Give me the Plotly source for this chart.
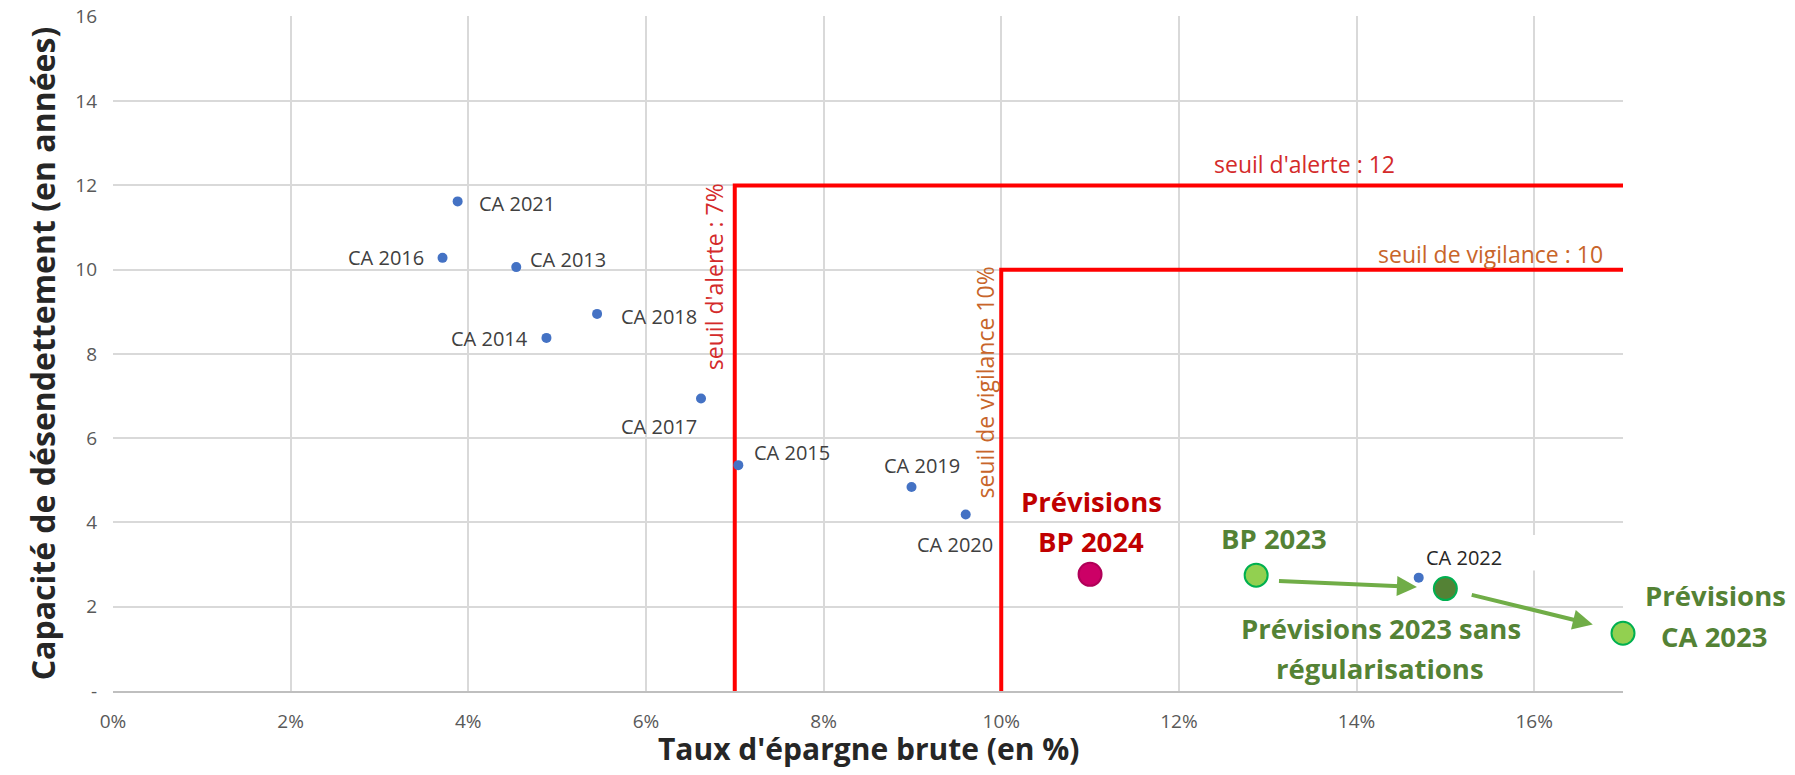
import plotly.graph_objects as go

# Historical points (comptes administratifs)
ca_labels = ["CA 2013", "CA 2014", "CA 2015", "CA 2016", "CA 2017",
             "CA 2018", "CA 2019", "CA 2020", "CA 2021", "CA 2022"]
ca_taux = [4.54, 4.88, 7.04, 3.71, 6.62, 5.45, 8.99, 9.60, 3.88, 14.70]
ca_capacite = [10.06, 8.38, 5.36, 10.28, 6.94, 8.95, 4.84, 4.19, 11.62, 2.69]

# Forecast points
prev_names = ["BP 2024", "BP 2023", "Prévisions 2023 sans régularisations", "Prévisions CA 2023"]
prev_taux = [11.0, 12.87, 15.0, 17.0]
prev_capacite = [2.77, 2.75, 2.43, 1.37]

# Thresholds
seuil_alerte_taux = 7
seuil_alerte_capacite = 12
seuil_vigilance_taux = 10
seuil_vigilance_capacite = 10

x_max = 17
x_ticks = [0, 2, 4, 6, 8, 10, 12, 14, 16]
x_ticktext = ["0%", "2%", "4%", "6%", "8%", "10%", "12%", "14%", "16%"]
y_ticks = [0, 2, 4, 6, 8, 10, 12, 14, 16]
y_ticktext = ["-", "2", "4", "6", "8", "10", "12", "14", "16"]

# arrows between forecasts: (x_start, y_start, x_end, y_end)
arrows = [(13.11, 2.61, 14.68, 2.47), (15.28, 2.29, 16.66, 1.58)]

FONT = "Open Sans, Noto Sans, sans-serif"
RED = "#FF0000"
ALERT_TXT = "#D42A2A"
VIGIL_TXT = "#C8652A"
GREEN_TXT = "#548235"
DARKRED_TXT = "#C00000"

fig = go.Figure()

# white box behind the CA 2022 label (hides gridline)
fig.add_shape(type="rect", x0=14.9, x1=17.3, y0=2.86, y1=3.7,
              fillcolor="white", line_width=0, layer="between")

# threshold lines
fig.add_trace(go.Scatter(
    x=[seuil_alerte_taux, seuil_alerte_taux, x_max],
    y=[0, seuil_alerte_capacite, seuil_alerte_capacite],
    mode="lines", line=dict(color=RED, width=4), hoverinfo="skip", cliponaxis=False))
fig.add_trace(go.Scatter(
    x=[seuil_vigilance_taux, seuil_vigilance_taux, x_max],
    y=[0, seuil_vigilance_capacite, seuil_vigilance_capacite],
    mode="lines", line=dict(color=RED, width=4), hoverinfo="skip", cliponaxis=False))

# historical scatter
fig.add_trace(go.Scatter(
    x=ca_taux, y=ca_capacite, mode="markers",
    marker=dict(color="#4472C4", size=10), cliponaxis=False))

# forecast markers
fig.add_trace(go.Scatter(
    x=prev_taux, y=prev_capacite, mode="markers", cliponaxis=False,
    marker=dict(size=23,
                color=["#CC0066", "#92D050", "#548235", "#92D050"],
                line=dict(color=["#B00058", "#00B050", "#00B050", "#00B050"], width=2))))

# labels for CA points: (xanchor, xshift, yshift)
ca_label_pos = {
    "CA 2013": ("left", 12, 8),
    "CA 2014": ("right", -16, -1),
    "CA 2015": ("left", 14, 13),
    "CA 2016": ("right", -17, 0),
    "CA 2017": ("right", -2, -28),
    "CA 2018": ("left", 22, -3),
    "CA 2019": ("center", 10, 22),
    "CA 2020": ("center", -11, -30),
    "CA 2021": ("left", 19, -2),
    "CA 2022": ("left", 5, 20),
}
for lab, x, y in zip(ca_labels, ca_taux, ca_capacite):
    xa, xs, ys = ca_label_pos[lab]
    col = "#262626" if lab == "CA 2022" else "#404040"
    fig.add_annotation(x=x, y=y, text=lab, showarrow=False, xanchor=xa, yanchor="middle",
                       xshift=xs, yshift=ys, font=dict(family=FONT, size=20, color=col))

# labels for forecast points: list of lines (text, xshift, yshift)
prev_label_lines = [
    [("Prévisions", 1, 73), ("BP 2024", 1, 33)],
    [("BP 2023", 18, 37)],
    [("Prévisions 2023 sans", -64, -40), ("régularisations", -65, -80)],
    [("Prévisions", 92, 38), ("CA 2023", 91, -3)],
]
prev_label_colors = [DARKRED_TXT, GREEN_TXT, GREEN_TXT, GREEN_TXT]
for lines, x, y, col in zip(prev_label_lines, prev_taux, prev_capacite, prev_label_colors):
    for txt, xs, ys in lines:
        fig.add_annotation(x=x, y=y, text="<b>%s</b>" % txt, showarrow=False,
                           xanchor="center", yanchor="middle", xshift=xs, yshift=ys,
                           font=dict(family=FONT, size=27.5, color=col))

# arrows
for x0, y0, x1, y1 in arrows:
    fig.add_annotation(x=x1, y=y1, ax=x0, ay=y0, xref="x", yref="y", axref="x", ayref="y",
                       text="", showarrow=True, arrowhead=2, arrowsize=1,
                       arrowwidth=4, arrowcolor="#70AD47")

# threshold texts
fig.add_annotation(x=13.41, y=seuil_alerte_capacite, yshift=21, text="seuil d'alerte : 12",
                   showarrow=False, font=dict(family=FONT, size=23, color=ALERT_TXT))
fig.add_annotation(x=15.51, y=seuil_vigilance_capacite, yshift=16, text="seuil de vigilance : 10",
                   showarrow=False, font=dict(family=FONT, size=23, color=VIGIL_TXT))
fig.add_annotation(x=seuil_alerte_taux, y=9.84, xshift=-20, text="seuil d'alerte : 7%",
                   textangle=-90, showarrow=False, font=dict(family=FONT, size=23, color=ALERT_TXT))
fig.add_annotation(x=seuil_vigilance_taux, y=7.33, xshift=-16, text="seuil de vigilance 10%",
                   textangle=-90, showarrow=False, font=dict(family=FONT, size=23, color=VIGIL_TXT))

# x axis title as annotation (standoff ignored without automargin)
fig.add_annotation(x=0.5, y=0, xref="paper", yref="paper", yshift=-57,
                   xanchor="center", yanchor="middle", showarrow=False,
                   text="<b>Taux d'épargne brute (en %)</b>",
                   font=dict(family=FONT, size=30, color="#262626"))

fig.update_xaxes(
    range=[0, x_max], tickmode="array", tickvals=x_ticks, ticktext=x_ticktext,
    showgrid=True, gridcolor="#D9D9D9", gridwidth=1.5, zeroline=False,
    showline=True, linecolor="#BFBFBF", linewidth=1.5, automargin=False,
    tickfont=dict(family=FONT, size=19, color="#595959"), ticklabelstandoff=12,
)
fig.update_yaxes(
    range=[0, 16.02], tickmode="array", tickvals=y_ticks, ticktext=y_ticktext,
    showgrid=True, gridcolor="#D9D9D9", gridwidth=1.5, zeroline=False,
    showline=False, automargin=False, ticklabeloverflow="allow",
    tickfont=dict(family=FONT, size=19, color="#595959"), ticklabelstandoff=15,
    title=dict(text="<b>Capacité de désendettement (en années)</b>", standoff=10,
               font=dict(family=FONT, size=32, color="#262626")),
)

fig.update_layout(
    width=1779, height=759,
    margin=dict(l=105, r=164, t=8, b=76),
    plot_bgcolor="white", paper_bgcolor="white",
    showlegend=False,
)

fig.write_html("out.html")
